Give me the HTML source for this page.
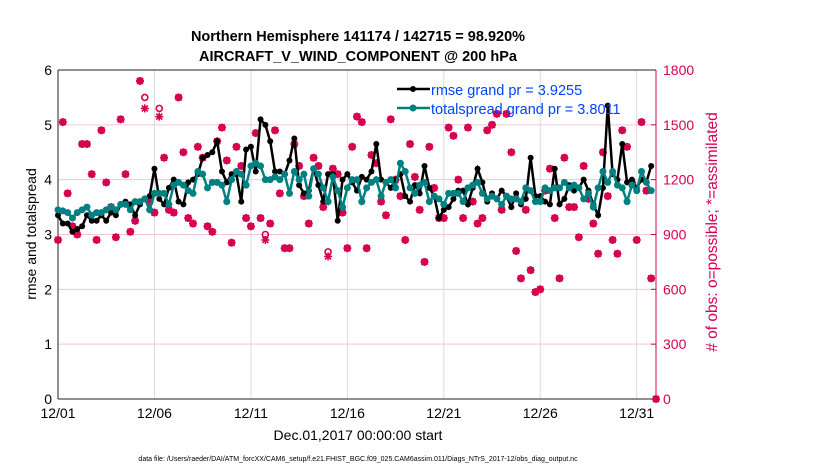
<!DOCTYPE html>
<html><head><meta charset="utf-8"><style>
body{margin:0;background:#fff;}
svg{display:block;font-family:"Liberation Sans",sans-serif;}
</style></head><body>
<svg id="chart" width="830" height="470" viewBox="0 0 830 470">
<text x="358" y="41" text-anchor="middle" font-size="14.5" font-weight="bold">Northern Hemisphere 141174 / 142715 = 98.920%</text>
<text x="358" y="61" text-anchor="middle" font-size="14.5" font-weight="bold">AIRCRAFT_V_WIND_COMPONENT @ 200 hPa</text>
<g id="grid"></g>
<g id="axes"></g>
<g id="marks"></g>
<text transform="translate(36,234) rotate(-90)" text-anchor="middle" font-size="14">rmse and totalspread</text>
<text transform="translate(717,232) rotate(-90)" text-anchor="middle" font-size="15.5" fill="#d6004f"># of obs: o=possible; *=assimilated</text>
<text x="358" y="440" text-anchor="middle" font-size="14">Dec.01,2017 00:00:00 start</text>
<text x="358" y="461" text-anchor="middle" font-size="7">data file: /Users/raeder/DAI/ATM_forcXX/CAM6_setup/f.e21.FHIST_BGC.f09_025.CAM6assim.011/Diags_NTrS_2017-12/obs_diag_output.nc</text>
<g id="legend">
<line x1="397" y1="89" x2="430" y2="89" stroke="#000" stroke-width="2.5"/>
<circle cx="413" cy="89" r="3" fill="#000"/>
<text x="431" y="95" font-size="14.5" fill="#0044ff">rmse grand pr = 3.9255</text>
<line x1="397" y1="108" x2="430" y2="108" stroke="#008080" stroke-width="2.5"/>
<circle cx="413" cy="108" r="3.5" fill="#008080"/>
<text x="431" y="114" font-size="14.5" fill="#0044ff">totalspread grand pr = 3.8011</text>
</g>
</svg>
<script>
const xTickLabels=["12/01","12/06","12/11","12/16","12/21","12/26","12/31"];
const xTickDays=[1,6,11,16,21,26,31];
const yTicks=[0,1,2,3,4,5,6];
const rTicks=[0,300,600,900,1200,1500,1800];
const rmse=[3.35,3.2,3.2,3.05,3.1,3.15,3.35,3.25,3.25,3.35,3.25,3.4,3.35,3.55,3.6,3.55,3.35,3.55,3.65,3.7,4.2,3.65,3.55,3.85,4.0,3.6,3.55,3.95,4.0,4.1,4.4,4.45,4.5,4.7,4.15,3.95,4.1,4.1,3.6,4.55,4.6,4.15,5.1,5.0,4.7,4.15,4.15,4.1,4.35,4.75,3.9,3.75,3.8,4.2,3.9,3.6,4.1,4.1,3.25,4.0,4.1,3.95,3.8,4.05,4.0,4.15,4.65,4.0,3.95,3.85,4.0,4.1,3.7,3.6,3.9,3.75,4.25,3.85,3.7,3.3,3.45,3.5,3.65,3.8,3.8,3.55,3.85,4.2,3.95,3.6,3.75,3.65,3.8,3.7,3.5,3.75,3.55,3.65,4.4,3.7,3.7,3.6,3.55,4.2,3.55,3.65,3.9,3.8,3.85,4.0,3.8,3.55,3.35,3.85,5.35,4.1,4.0,4.65,3.95,4.0,3.85,4.0,3.95,4.25];
const spread=[3.45,3.43,3.4,3.3,3.4,3.45,3.5,3.35,3.4,3.4,3.45,3.5,3.45,3.55,3.55,3.45,3.6,3.6,3.65,3.45,3.75,3.75,3.75,3.55,3.9,3.95,3.9,3.8,3.75,4.15,4.1,3.85,3.95,3.95,3.9,3.6,4.0,4.15,4.1,3.9,4.25,4.3,4.25,4.0,4.0,4.05,4.0,4.1,3.75,4.15,4.0,4.1,3.7,4.2,4.1,3.85,3.6,4.05,3.8,3.5,3.85,4.0,4.0,3.6,3.85,3.95,4.0,3.7,3.95,4.0,3.85,4.3,4.15,3.85,3.75,3.9,3.95,3.6,3.7,3.65,3.55,3.75,3.75,3.75,3.6,3.85,3.9,3.95,3.75,3.65,3.7,3.65,3.55,3.7,3.65,3.65,3.6,3.85,3.8,3.6,3.6,3.85,3.8,3.85,3.85,3.95,3.85,3.9,3.85,3.65,3.75,3.5,3.85,4.15,3.95,4.15,3.9,3.85,3.6,3.9,3.8,4.15,3.95,3.8];
const obsUsed=[870,1515,1125,945,900,1395,1395,1230,870,1470,1185,1050,885,1530,1230,915,975,1740,1590,1080,1020,1545,1320,1035,1020,1650,1350,990,960,1380,1320,945,915,1410,1485,1305,855,1380,1275,990,945,1455,990,870,960,1470,1125,825,825,1395,1275,1110,960,1320,1275,1050,780,1260,1230,1020,825,1380,1545,1515,825,1335,1290,1080,1005,1530,1200,1110,870,1395,1215,1035,750,1380,1155,990,990,1485,1440,1200,990,1485,1080,960,990,1470,1500,1560,1035,1560,1350,810,660,1035,705,585,600,1140,1260,990,660,1320,1050,1050,885,1275,1095,960,795,1350,1110,870,795,1470,1380,1185,870,1515,1140,660,0];
const obsExtra=[0,0,0,0,0,0,0,0,0,0,0,0,0,0,0,0,0,0,60,0,0,45,0,0,0,0,0,0,0,0,0,0,0,0,0,0,0,0,0,0,0,0,0,30,0,0,0,0,0,0,0,0,0,0,0,0,25,0,0,0,0,0,0,0,0,0,0,0,0,0,0,0,0,0,0,0,0,0,0,0,0,0,0,0,0,0,0,0,0,0,0,0,0,0,0,0,0,0,0,0,0,0,0,0,0,0,0,0,0,0,0,0,0,0,0,0,0,0,0,0,0,0,0,0,0];
const obsPoss=obsUsed.map((v,i)=>v+obsExtra[i]);
const X0=58,X1=656,Y0=399,Y1=70,D0=1,D1=32;
const xs=d=>X0+(d-D0)/(D1-D0)*(X1-X0);
const ys=v=>Y0-v/6*(Y0-Y1);
const yr=v=>Y0-v/1800*(Y0-Y1);
const tDay=i=>1+i*0.25;
const NS="http://www.w3.org/2000/svg";
function mk(p,tag,at){const e=document.createElementNS(NS,tag);for(const k in at)e.setAttribute(k,at[k]);p.appendChild(e);return e;}
const grid=document.getElementById('grid'),axes=document.getElementById('axes'),marks=document.getElementById('marks');
xTickDays.forEach((d,i)=>{
 const x=xs(d);
 const l=mk(grid,'line',{x1:x,y1:Y1,x2:x,y2:Y0,stroke:'#dcdcdc','stroke-width':1});
 
 
 const t=mk(axes,'text',{x:x,y:Y0+19,'text-anchor':'middle','font-size':14});
 t.textContent=xTickLabels[i];
 
 
});
yTicks.forEach(v=>{
 const t=mk(axes,'text',{x:X0-6,y:ys(v)+5,'text-anchor':'end','font-size':14});
 t.textContent=v;
 
 
});
rTicks.forEach(v=>{
 const y=yr(v);
 if(v>0&&v<1800){const l=mk(grid,'line',{x1:X0,y1:y,x2:X1,y2:y,stroke:'#f3c6d6','stroke-width':1});
 
 }
 mk(axes,'line',{x1:X1,y1:y,x2:X1-5,y2:y,stroke:'#d6004f'});
 const t=mk(axes,'text',{x:X1+7,y:y+5,'font-size':14,fill:'#d6004f'});
 t.textContent=v;
 
 
});
mk(axes,'line',{x1:X0,y1:Y1,x2:X0,y2:Y0,stroke:'#222'});
mk(axes,'line',{x1:X0,y1:Y0,x2:X1,y2:Y0,stroke:'#222'});
mk(axes,'line',{x1:X0,y1:Y1,x2:X1,y2:Y1,stroke:'#222'});
mk(axes,'line',{x1:X1,y1:Y1,x2:X1,y2:Y0,stroke:'#d6004f'});
obsUsed.forEach((v,i)=>{
 const x=xs(tDay(i)),y=yr(v),yp=yr(obsPoss[i]);
 const g=mk(marks,'g',{stroke:'#d6004f','stroke-width':1.6});
 
 
 mk(g,'circle',{cx:x,cy:yp,r:3,fill:'none'});
 mk(g,'line',{x1:x-4,y1:y,x2:x+4,y2:y});
 mk(g,'line',{x1:x,y1:y-4,x2:x,y2:y+4});
 mk(g,'line',{x1:x-3,y1:y-3,x2:x+3,y2:y+3});
 mk(g,'line',{x1:x-3,y1:y+3,x2:x+3,y2:y-3});
});
function series(arr,color,r,name){
 const p=mk(marks,'polyline',{points:arr.map((v,i)=>xs(tDay(i))+','+ys(v)).join(' '),fill:'none',stroke:color,'stroke-width':2.5});
 
 
 arr.forEach((v,i)=>{const c=mk(marks,'circle',{cx:xs(tDay(i)),cy:ys(v),r:r,fill:color});
 
 });
}
series(rmse,'#000',3,'rmse');
series(spread,'#008080',3.5,'spread');
marks.appendChild(document.getElementById('legend'));
</script>
</body></html>
